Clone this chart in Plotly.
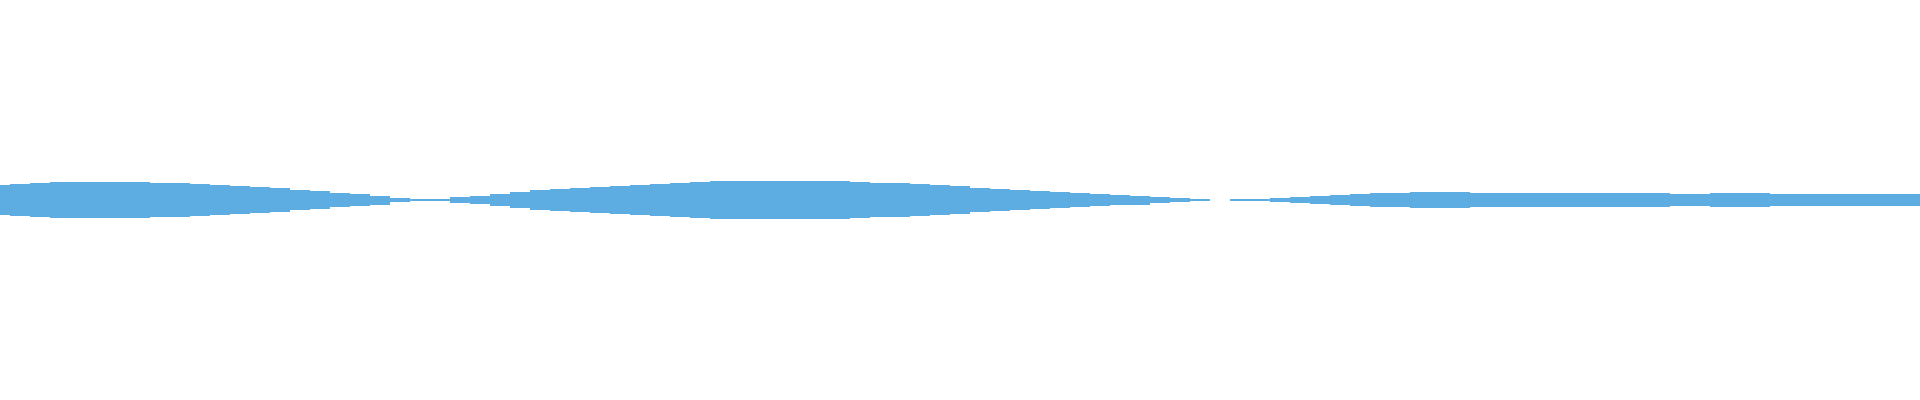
import plotly.graph_objects as go

# sample index along the stream (one sample every ~20 px of the original)
steps = list(range(97))

# band thickness, one value per sample
thickness = [
    30.0, 32.7, 34.7, 36.0, 36.7, 36.7, 36.7, 36.7, 34.7, 33.7,
    32.7, 30.5, 28.7, 26.7, 23.5, 20.7, 18.0, 14.5, 11.7, 9.0,
    4.5, 1.7, 1.7, 5.3, 8.7, 12.0, 15.7, 19.3, 21.7, 24.2,
    26.7, 28.7, 30.2, 32.2, 34.7, 35.7, 37.7, 38.0, 38.7, 38.7,
    37.7, 37.7, 37.7, 36.7, 34.7, 33.7, 31.7, 29.7, 27.2, 24.7,
    22.0, 19.7, 17.7, 15.7, 14.7, 12.7, 10.7, 9.0, 6.7, 4.0,
    1.7, 0.0, 1.5, 1.7, 4.0, 5.7, 8.5, 10.7, 12.7, 13.7,
    14.7, 15.7, 15.7, 15.7, 14.7, 14.7, 14.7, 13.7, 13.7, 13.7,
    13.7, 13.7, 13.7, 13.7, 12.7, 12.7, 13.3, 13.3, 13.3, 12.0,
    12.0, 12.0, 12.0, 12.0, 12.0, 11.7, 11.7,
]

fig = go.Figure()

# centred bars -> symmetric band around zero
fig.add_trace(go.Bar(
    x=steps,
    y=thickness,
    base=[-v / 2 for v in thickness],
    width=1,
    marker=dict(color='#5DADE2', line=dict(width=0)),
    hoverinfo='x+y',
))

fig.update_layout(
    width=1920,
    height=400,
    margin=dict(l=0, r=0, t=0, b=0),
    bargap=0,
    showlegend=False,
    plot_bgcolor='white',
    paper_bgcolor='white',
    xaxis=dict(range=[0, 96], visible=False, fixedrange=True),
    yaxis=dict(range=[-200, 200], visible=False, fixedrange=True),
)

# page body has a default 8px margin; drop it so the chart fills the window
fig.write_html(
    "out.html",
    config={'displayModeBar': False},
    post_script="document.body.style.margin='0';",
)
